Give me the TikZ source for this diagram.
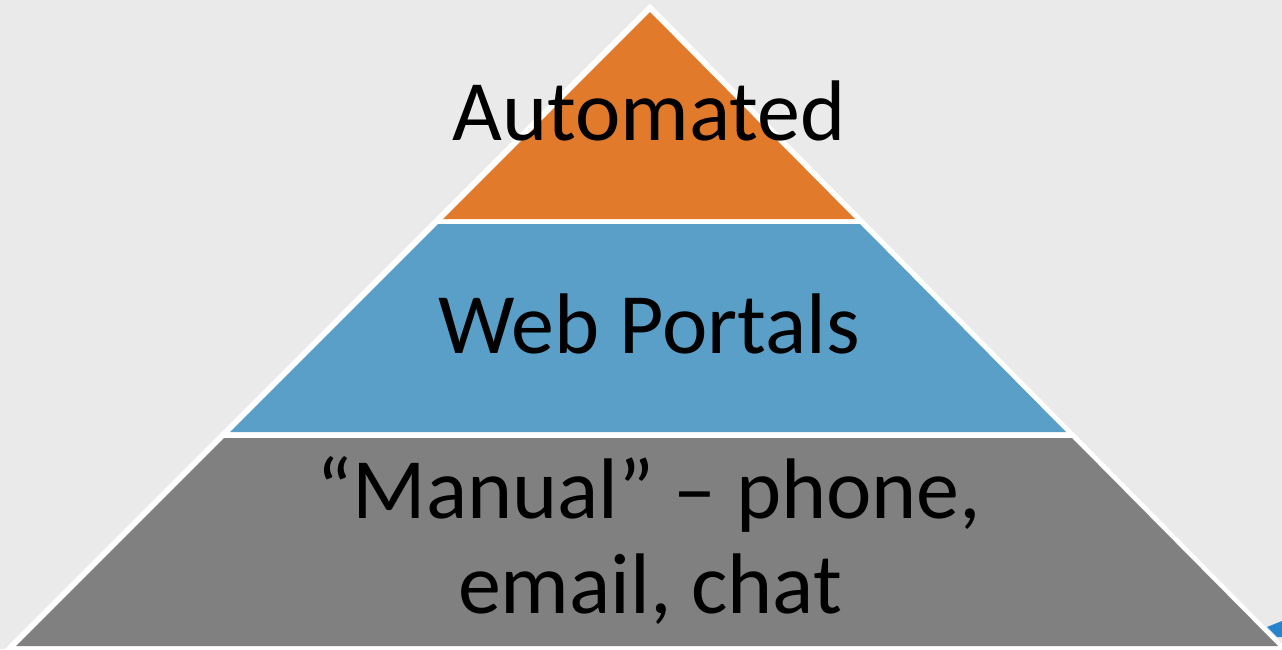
\documentclass[tikz,border=0pt]{standalone}
\usepackage{fontspec}
\setmainfont{Carlito}
\definecolor{paper}{HTML}{EAEAEA}
\definecolor{tierorange}{HTML}{E27A2B}
\definecolor{tierblue}{HTML}{599FC7}
\definecolor{tiergray}{HTML}{7F807F}
\definecolor{cornerblue}{HTML}{2683CC}
\tikzset{
  tierlabel/.style={text=black, inner sep=0pt, align=center,
    font=\fontsize{86}{94}\selectfont},
}
\begin{document}
\begin{tikzpicture}[x=1pt,y=-1pt]
  % canvas
  \fill[paper] (0,0) rectangle (1282,649);
  \useasboundingbox (0,0) rectangle (1282,649);
  \begin{scope}
    \clip (0,0) rectangle (1282,649);
    % white frame of the pyramid
    \fill[white] (650,3.5) -- (1302,664) -- (-10,664) -- cycle;
    % corner of a neighbouring shape
    \fill[cornerblue] (1267,627) -- (1282,621) -- (1282,637) -- (1277,637) -- cycle;
    % bottom tier
    \fill[tiergray] (224,438) -- (1072,438) -- (1278,646) -- (16,646) -- cycle;
    % middle tier
    \fill[tierblue] (438,224) -- (860,224) -- (1066,432) -- (230,432) -- cycle;
    % top tier
    \fill[tierorange] (650,12) -- (855,219) -- (443,219) -- cycle;
  \end{scope}
  % labels
  \node[tierlabel, anchor=base] (top) at (649,140) {Automated};
  \node[tierlabel, anchor=base] (mid) at (649,353) {Web Portals};
  \node[tierlabel, anchor=base] (low1) at (649,518) {“Manual” – phone,};
  \node[tierlabel, anchor=base] (low2) at (650,613) {email, chat};
\end{tikzpicture}
\end{document}
